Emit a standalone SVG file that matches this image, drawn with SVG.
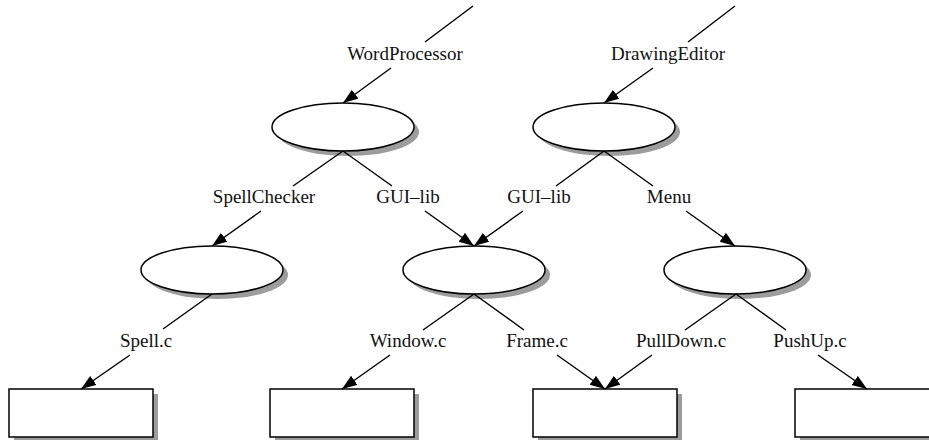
<svg xmlns="http://www.w3.org/2000/svg" width="929" height="440" viewBox="0 0 929 440">
  <style>
    .shape { fill: #ffffff; stroke: #000000; stroke-width: 1.5; }
    .shadow { fill: #9c9c9c; stroke: none; }
    .edge { fill: none; stroke: #000000; stroke-width: 1.4; marker-end: url(#arrow); }
    .label { font-family: "Liberation Serif", "Times New Roman", serif; font-size: 19px; fill: #111111; text-anchor: middle; }
  </style>
  <defs>
    <marker id="arrow" markerUnits="userSpaceOnUse" markerWidth="17" markerHeight="12" refX="15" refY="5.5" orient="auto">
      <path d="M0,0 L15,5.5 L0,11 z" fill="#000000"/>
    </marker>
  </defs>

  <rect width="929" height="440" fill="#ffffff"/>

  <!-- ellipse nodes: drop shadow first, then the outlined shape -->
  <g id="word-processor">
    <ellipse class="shadow" cx="348" cy="132" rx="71" ry="24"/>
    <ellipse class="shape" cx="343" cy="127" rx="71" ry="24"/>
  </g>
  <g id="drawing-editor">
    <ellipse class="shadow" cx="609" cy="132" rx="71" ry="24"/>
    <ellipse class="shape" cx="604" cy="127" rx="71" ry="24"/>
  </g>
  <g id="spell-checker">
    <ellipse class="shadow" cx="217" cy="275" rx="71" ry="24"/>
    <ellipse class="shape" cx="212" cy="270" rx="71" ry="24"/>
  </g>
  <g id="gui-lib">
    <ellipse class="shadow" cx="479" cy="275" rx="71" ry="24"/>
    <ellipse class="shape" cx="474" cy="270" rx="71" ry="24"/>
  </g>
  <g id="menu">
    <ellipse class="shadow" cx="740" cy="275" rx="71" ry="24"/>
    <ellipse class="shape" cx="735" cy="270" rx="71" ry="24"/>
  </g>

  <!-- file nodes -->
  <g id="spell-c">
    <rect class="shadow" x="14" y="394" width="144" height="48"/>
    <rect class="shape" x="9" y="389" width="144" height="48"/>
  </g>
  <g id="window-c">
    <rect class="shadow" x="275" y="394" width="144" height="48"/>
    <rect class="shape" x="270" y="389" width="144" height="48"/>
  </g>
  <g id="frame-c">
    <rect class="shadow" x="538" y="394" width="144" height="48"/>
    <rect class="shape" x="533" y="389" width="144" height="48"/>
  </g>
  <g id="pushup-c">
    <rect class="shadow" x="800" y="394" width="144" height="48"/>
    <rect class="shape" x="795" y="389" width="144" height="48"/>
  </g>

  <!-- connectors with their labels -->
  <g id="connectors">
    <path class="edge" d="M473,6 L425,42 M391,68 L343,103"/>
    <text class="label" x="405" y="60">WordProcessor</text>

    <path class="edge" d="M735,6 L688,42 M653,68 L604,103"/>
    <text class="label" x="668" y="60">DrawingEditor</text>

    <path class="edge" d="M343,151 L293,186 M261,211 L212,246"/>
    <text class="label" x="264" y="203">SpellChecker</text>

    <path class="edge" d="M343,151 L392,186 M425,211 L474,246"/>
    <text class="label" x="408" y="203">GUI–lib</text>

    <path class="edge" d="M604,151 L556,186 M523,211 L474,246"/>
    <text class="label" x="539" y="203">GUI–lib</text>

    <path class="edge" d="M604,151 L653,186 M686,211 L735,246"/>
    <text class="label" x="669" y="203">Menu</text>

    <path class="edge" d="M212,294 L163,329 M130,355 L81,389"/>
    <text class="label" x="146" y="347">Spell.c</text>

    <path class="edge" d="M474,294 L423,330 M390,355 L342,389"/>
    <text class="label" x="408" y="347">Window.c</text>

    <path class="edge" d="M474,294 L524,330 M557,355 L605,389"/>
    <text class="label" x="537" y="347">Frame.c</text>

    <path class="edge" d="M736,294 L685,330 M652,355 L605,389"/>
    <text class="label" x="681" y="347">PullDown.c</text>

    <path class="edge" d="M736,294 L786,330 M818,355 L867,389"/>
    <text class="label" x="810" y="347">PushUp.c</text>
  </g>
</svg>
